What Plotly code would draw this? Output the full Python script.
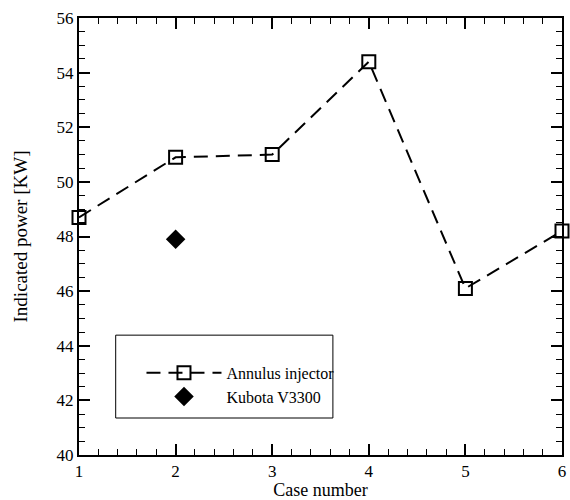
import plotly.graph_objects as go

cases = [1, 2, 3, 4, 5, 6]
annulus_power = [48.7, 50.9, 51.0, 54.4, 46.1, 48.2]
kubota_case = [2]
kubota_power = [47.9]

FONT = "Liberation Serif"

fig = go.Figure()
fig.add_trace(go.Scatter(
    x=cases, y=annulus_power, mode="lines+markers", name="Annulus injector",
    line=dict(color="black", width=2, dash="14px,8px"),
    marker=dict(symbol="square-open", size=13, color="black", line=dict(width=2)),
    cliponaxis=False,
))
fig.add_trace(go.Scatter(
    x=kubota_case, y=kubota_power, mode="markers", name="Kubota V3300",
    marker=dict(symbol="diamond", size=15, color="black"),
))

axis_common = dict(
    showgrid=False, zeroline=False, showline=True, linecolor="black", linewidth=2,
    mirror="allticks", ticks="inside", tickcolor="black", tickwidth=2, ticklen=11,
    tickfont=dict(family=FONT, size=17, color="black"),
)
fig.update_xaxes(range=[1, 6], dtick=1, tick0=1,
                 minor=dict(dtick=0.2, ticks="inside", ticklen=6, tickcolor="black", tickwidth=1),
                 title=dict(text="Case number", font=dict(family=FONT, size=18, color="black"), standoff=2),
                 **axis_common)
fig.update_yaxes(range=[40, 56], dtick=2, tick0=40,
                 minor=dict(dtick=0.5, ticks="inside", ticklen=6, tickcolor="black", tickwidth=1),
                 title=dict(text="Indicated power [KW]", font=dict(family=FONT, size=19, color="black"), standoff=24),
                 **axis_common)

fig.add_shape(type="rect", xref="paper", yref="paper",
              x0=(116 - 79) / 487, x1=(335 - 79) / 487,
              y0=(460.5 - 423) / 443, y1=(460.5 - 339) / 443,
              line=dict(color="black", width=1), fillcolor="rgba(0,0,0,0)")

fig.update_layout(
    width=570, height=500,
    margin=dict(l=79, r=4, t=18, b=40),
    paper_bgcolor="white", plot_bgcolor="white",
    font=dict(family=FONT, color="black"),
    legend=dict(x=(142 - 79) / 487, y=(460.5 - 360) / 443, xanchor="left", yanchor="top",
                bgcolor="rgba(0,0,0,0)", borderwidth=0, itemwidth=75,
                font=dict(family=FONT, size=16, color="black"), tracegroupgap=0),
)

fig.write_html("out.html")
